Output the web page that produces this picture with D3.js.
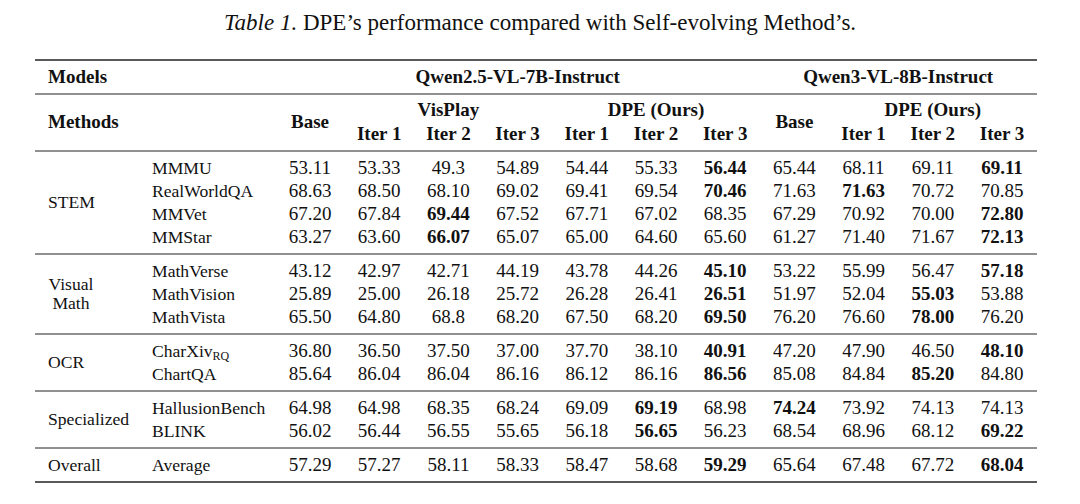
<!DOCTYPE html>
<html><head><meta charset="utf-8">
<script src="https://cdn.jsdelivr.net/npm/d3@7"></script>
<style>
html,body{margin:0;padding:0;background:#fff;}
svg text{font-family:"Liberation Serif","Times New Roman",serif;fill:#111;}
</style></head>
<body>
<svg id="chart" width="1080" height="504"></svg>
<script>
// ---------- data ----------
const title = ["Table 1.", " DPE’s performance compared with Self-evolving Method’s."];
const models = ["Qwen2.5-VL-7B-Instruct", "Qwen3-VL-8B-Instruct"];
const columns = ["Base","VisPlay Iter 1","VisPlay Iter 2","VisPlay Iter 3","DPE Iter 1","DPE Iter 2","DPE Iter 3","Q3 Base","Q3 DPE Iter 1","Q3 DPE Iter 2","Q3 DPE Iter 3"];
const columnLabels = ["Base","Iter 1","Iter 2","Iter 3","Iter 1","Iter 2","Iter 3","Base","Iter 1","Iter 2","Iter 3"];
const groupLabels = [
  {label:"VisPlay", from:1, to:3},
  {label:"DPE (Ours)", from:4, to:6},
  {label:"DPE (Ours)", from:8, to:10}
];
const categories = [
  {name:["STEM"], benchmarks:["MMMU","RealWorldQA","MMVet","MMStar"]},
  {name:["Visual","Math"], benchmarks:["MathVerse","MathVision","MathVista"]},
  {name:["OCR"], benchmarks:["CharXiv|RQ","ChartQA"]},
  {name:["Specialized"], benchmarks:["HallusionBench","BLINK"]},
  {name:["Overall"], benchmarks:["Average"]}
];
const MMMU        = ["53.11","53.33","49.3","54.89","54.44","55.33","56.44","65.44","68.11","69.11","69.11"];
const RealWorldQA = ["68.63","68.50","68.10","69.02","69.41","69.54","70.46","71.63","71.63","70.72","70.85"];
const MMVet       = ["67.20","67.84","69.44","67.52","67.71","67.02","68.35","67.29","70.92","70.00","72.80"];
const MMStar      = ["63.27","63.60","66.07","65.07","65.00","64.60","65.60","61.27","71.40","71.67","72.13"];
const MathVerse   = ["43.12","42.97","42.71","44.19","43.78","44.26","45.10","53.22","55.99","56.47","57.18"];
const MathVision  = ["25.89","25.00","26.18","25.72","26.28","26.41","26.51","51.97","52.04","55.03","53.88"];
const MathVista   = ["65.50","64.80","68.8","68.20","67.50","68.20","69.50","76.20","76.60","78.00","76.20"];
const CharXivRQ   = ["36.80","36.50","37.50","37.00","37.70","38.10","40.91","47.20","47.90","46.50","48.10"];
const ChartQA     = ["85.64","86.04","86.04","86.16","86.12","86.16","86.56","85.08","84.84","85.20","84.80"];
const HallusionBench = ["64.98","64.98","68.35","68.24","69.09","69.19","68.98","74.24","73.92","74.13","74.13"];
const BLINK       = ["56.02","56.44","56.55","55.65","56.18","56.65","56.23","68.54","68.96","68.12","69.22"];
const Average     = ["57.29","57.27","58.11","58.33","58.47","58.68","59.29","65.64","67.48","67.72","68.04"];
const rowValues = [MMMU,RealWorldQA,MMVet,MMStar,MathVerse,MathVision,MathVista,CharXivRQ,ChartQA,HallusionBench,BLINK,Average];
// bold (best) column indices per row, as printed
const boldCols = [[6,10],[6,8],[2,10],[2,10],[6,10],[6,9],[6,9],[6,10],[6,9],[5,7],[5,10],[6,10]];

// ---------- layout ----------
const W = 1080, H = 504;
const svg = d3.select("#chart");
const fs = 19, fsName = 17.6;
const left = 35, right = 1037;
const xLabel = 48, xBench = 152;
const x = d3.scalePoint().domain(columns).range([310, 1002]);
const rowH = 23, pad = 17;

// title
const t = svg.append("text").attr("x", 540).attr("y", 22).attr("dy","0.33em")
  .attr("text-anchor","middle").style("font-size","23px");
t.append("tspan").style("font-style","italic").text(title[0]);
t.append("tspan").text(title[1]);

// header rows
const topRule = 60;
const modelsY = topRule + pad;
const rule2 = modelsY + pad;
const methodsY = 122, groupY = 110, iterY = 134;
const headRule = iterY + pad;

function txt(xp, yp, s, opts={}) {
  return svg.append("text").attr("x", xp).attr("y", yp).attr("dy","0.33em")
    .attr("text-anchor", opts.anchor || "middle")
    .style("font-size", (opts.size || fs) + "px")
    .style("font-weight", opts.bold ? "bold" : "normal")
    .text(s);
}
function rule(yp, w) {
  svg.append("line").attr("x1", left).attr("x2", right).attr("y1", yp).attr("y2", yp)
    .attr("stroke", "#222").attr("stroke-width", w);
}

txt(xLabel, modelsY, "Models", {anchor:"start", bold:true});
txt((x(columns[0]) + x(columns[6]))/2, modelsY, models[0], {bold:true});
txt((x(columns[7]) + x(columns[10]))/2, modelsY, models[1], {bold:true});
txt(xLabel, methodsY, "Methods", {anchor:"start", bold:true});
groupLabels.forEach(g => txt((x(columns[g.from]) + x(columns[g.to]))/2, groupY, g.label, {bold:true}));
columns.forEach((c,i) => {
  if (columnLabels[i] === "Base") txt(x(c), methodsY, "Base", {bold:true});
  else txt(x(c), iterY, columnLabels[i], {bold:true});
});

rule(topRule, 1.6);
rule(rule2, 1);
rule(headRule, 1);

// body
let yCursor = headRule;
let r = 0;
categories.forEach(cat => {
  const first = yCursor + pad;
  const ys = cat.benchmarks.map((b,i) => first + i*rowH);
  const mid = (ys[0] + ys[ys.length-1]) / 2;
  if (cat.name.length === 1) {
    txt(xLabel, mid, cat.name[0], {anchor:"start", size:fsName});
  } else {
    const lh = 19;
    cat.name.forEach((n,k) => txt(71, mid + (k - (cat.name.length-1)/2)*lh, n, {size:fsName}));
  }
  cat.benchmarks.forEach((b,i) => {
    const yy = ys[i];
    const parts = b.split("|");
    const tt = txt(xBench, yy, parts[0], {anchor:"start", size:fsName});
    if (parts[1]) {
      tt.append("tspan").attr("dy","0.3em").style("font-size","12px").text(parts[1]);
    }
    const vals = rowValues[r], bolds = boldCols[r];
    columns.forEach((c,j) => txt(x(c), yy, vals[j], {bold: bolds.includes(j)}));
    r++;
  });
  yCursor = ys[ys.length-1] + pad;
  rule(yCursor, cat.name[0] === "Overall" ? 1.6 : 1);
});
</script>
</body></html>
